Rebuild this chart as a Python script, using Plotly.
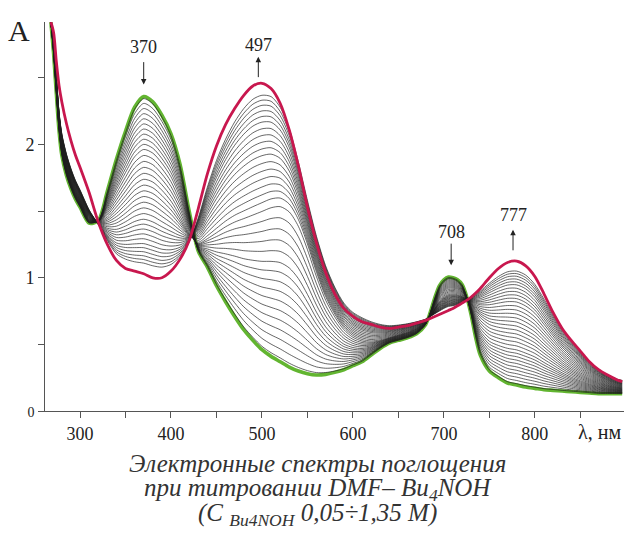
import plotly.graph_objects as go

# Wavelength grid (nm) shared by all spectra
wavelength = [268, 271, 274, 277, 280, 285, 290, 295, 300, 310, 320, 330, 340, 350,
              360, 370, 380, 390, 400, 410, 420, 430, 440, 450, 460, 470, 480, 490,
              500, 510, 520, 530, 540, 550, 560, 570, 580, 590, 600, 610, 620, 630,
              640, 650, 660, 670, 680, 685, 690, 695, 700, 705, 710, 715, 720, 725,
              730, 735, 740, 750, 760, 770, 780, 790, 800, 810, 820, 830, 840, 850,
              860, 870, 880, 890, 896]

# Initial spectrum (pure DMF solution)
absorb_initial = [2.92, 2.68, 2.38, 2.10, 1.92, 1.77, 1.67, 1.59, 1.53, 1.41, 1.43, 1.65,
                  1.89, 2.10, 2.28, 2.36, 2.32, 2.22, 2.08, 1.85, 1.50, 1.20, 1.08, 0.94,
                  0.82, 0.71, 0.61, 0.53, 0.46, 0.41, 0.37, 0.33, 0.30, 0.28, 0.27, 0.275,
                  0.29, 0.31, 0.34, 0.37, 0.42, 0.47, 0.51, 0.53, 0.55, 0.58, 0.65, 0.74,
                  0.85, 0.94, 0.985, 1.005, 1.00, 0.985, 0.95, 0.86, 0.72, 0.55, 0.42,
                  0.30, 0.25, 0.21, 0.195, 0.18, 0.17, 0.16, 0.155, 0.15, 0.145, 0.14,
                  0.135, 0.13, 0.13, 0.13, 0.13]

# Spectrum half-way through the titration
absorb_middle = [2.92, 2.72, 2.44, 2.17, 2.00, 1.85, 1.74, 1.66, 1.59, 1.46, 1.42, 1.45,
                 1.52, 1.60, 1.68, 1.72, 1.70, 1.64, 1.56, 1.45, 1.33, 1.26, 1.30, 1.35,
                 1.40, 1.44, 1.47, 1.50, 1.53, 1.56, 1.57, 1.53, 1.42, 1.24, 1.03, 0.85,
                 0.72, 0.62, 0.56, 0.53, 0.52, 0.53, 0.55, 0.57, 0.59, 0.62, 0.665, 0.71,
                 0.77, 0.82, 0.85, 0.87, 0.875, 0.87, 0.86, 0.84, 0.80, 0.75, 0.71, 0.66,
                 0.64, 0.63, 0.62, 0.59, 0.55, 0.49, 0.43, 0.37, 0.32, 0.28, 0.245, 0.215,
                 0.195, 0.18, 0.175]

# Last intermediate spectrum of the titration
absorb_last_step = [2.92, 2.76, 2.50, 2.24, 2.08, 1.93, 1.82, 1.73, 1.66, 1.51, 1.40, 1.28,
                    1.18, 1.14, 1.12, 1.11, 1.09, 1.08, 1.10, 1.16, 1.27, 1.45, 1.68, 1.88,
                    2.04, 2.17, 2.27, 2.34, 2.37, 2.36, 2.28, 2.12, 1.87, 1.58, 1.31, 1.09,
                    0.93, 0.81, 0.74, 0.70, 0.67, 0.65, 0.64, 0.645, 0.655, 0.67, 0.69,
                    0.71, 0.73, 0.75, 0.77, 0.785, 0.79, 0.80, 0.81, 0.83, 0.85, 0.875,
                    0.90, 0.96, 1.01, 1.045, 1.05, 1.02, 0.95, 0.84, 0.72, 0.61, 0.52,
                    0.44, 0.37, 0.31, 0.27, 0.24, 0.23]

# Final spectrum (1.35 M Bu4NOH)
absorb_final = [2.92, 2.84, 2.62, 2.44, 2.32, 2.16, 2.03, 1.92, 1.83, 1.64, 1.42, 1.25,
                1.13, 1.07, 1.05, 1.03, 1.00, 1.00, 1.05, 1.14, 1.28, 1.52, 1.78, 1.99,
                2.15, 2.27, 2.37, 2.44, 2.46, 2.42, 2.31, 2.11, 1.84, 1.53, 1.26, 1.04,
                0.88, 0.77, 0.71, 0.67, 0.65, 0.63, 0.62, 0.63, 0.64, 0.66, 0.68, 0.695,
                0.71, 0.725, 0.74, 0.755, 0.77, 0.79, 0.81, 0.83, 0.855, 0.885, 0.92,
                1.00, 1.07, 1.115, 1.125, 1.09, 1.01, 0.88, 0.74, 0.62, 0.53, 0.45,
                0.37, 0.31, 0.27, 0.235, 0.22]

# Titration progress of each recorded intermediate spectrum (0 = initial, 1 = last step)
progress = [0.012, 0.04, 0.07, 0.10, 0.13, 0.16, 0.19, 0.22, 0.25, 0.28, 0.31, 0.345,
            0.38, 0.415, 0.45, 0.485, 0.52, 0.555, 0.59, 0.625, 0.66, 0.695, 0.73,
            0.76, 0.79, 0.82, 0.85, 0.88, 0.905, 0.93, 0.955, 0.978, 1.0]

x_ticks = [300, 350, 400, 450, 500, 550, 600, 650, 700, 750, 800, 850]
x_tick_text = ["300", "", "400", "", "500", "", "600", "", "700", "", "800", ""]
y_ticks = [0, 0.5, 1, 1.5, 2, 2.5]
y_tick_text = ["<span style='font-size:14px'>0</span>", "", "1", "", "2", ""]

# Band maxima: label, wavelength, label height, arrow head height, arrow tail offset (px)
band_labels = ["370", "497", "708", "777"]
band_x = [370, 496, 708, 776]
band_text_y = [2.73, 2.75, 1.34, 1.47]
band_head_y = [2.45, 2.66, 1.095, 1.36]
band_tail_dy = [-24, 22, -23, 22]

SERIF = "Liberation Serif, Times New Roman, serif"
n = len(wavelength)
assert all(len(s) == n for s in (absorb_initial, absorb_middle, absorb_last_step, absorb_final))


def intermediate(t):
    """Spectrum at titration progress t, passing through the mid-point spectrum."""
    if t <= 0.5:
        w = t / 0.5
        return [a + (b - a) * w for a, b in zip(absorb_initial, absorb_middle)]
    w = (t - 0.5) / 0.5
    return [a + (b - a) * w for a, b in zip(absorb_middle, absorb_last_step)]


fig = go.Figure()

fig.add_trace(go.Scatter(x=wavelength, y=absorb_initial, mode="lines",
                         line=dict(color="#62b530", width=3.6, shape="spline", smoothing=0.8),
                         hoverinfo="skip"))

for t in progress:
    fig.add_trace(go.Scatter(x=wavelength, y=intermediate(t), mode="lines",
                             line=dict(color="rgba(30,30,30,0.8)", width=0.85,
                                       shape="spline", smoothing=0.8),
                             hoverinfo="skip"))

fig.add_trace(go.Scatter(x=wavelength, y=absorb_final, mode="lines",
                         line=dict(color="#c8174e", width=2.8, shape="spline", smoothing=0.8),
                         hoverinfo="skip"))

axis_common = dict(showline=True, linecolor="#555", linewidth=1, ticks="outside",
                   ticklen=6, tickcolor="#555", tickwidth=1, showgrid=False,
                   zeroline=False, tickfont=dict(family=SERIF, size=18, color="#222"))

fig.update_layout(
    width=624, height=537,
    margin=dict(l=45, r=0, t=22, b=126),
    paper_bgcolor="white", plot_bgcolor="white",
    showlegend=False,
    xaxis=dict(range=[261.5, 898], tickvals=x_ticks, ticktext=x_tick_text, **axis_common),
    yaxis=dict(range=[0, 2.92], tickvals=y_ticks, ticktext=y_tick_text, **axis_common),
)

# Band labels with arrows showing the direction of change
for lab, bx, ty, hy, dy in zip(band_labels, band_x, band_text_y, band_head_y, band_tail_dy):
    fig.add_annotation(x=bx, y=ty, text=lab, showarrow=False,
                       xanchor="center", yanchor="middle",
                       font=dict(family=SERIF, size=18, color="#222"))
    fig.add_annotation(x=bx, y=hy, text="", showarrow=True, ax=0, ay=dy,
                       arrowhead=2, arrowsize=1.1, arrowwidth=1, arrowcolor="#222")

# Axis titles
fig.add_annotation(xref="paper", yref="paper", x=-0.045, y=0.979, text="A",
                   xanchor="center", yanchor="middle", showarrow=False,
                   font=dict(family=SERIF, size=30, color="#222"))
fig.add_annotation(xref="paper", yref="paper", x=0.957, y=-0.054, text="λ, нм",
                   xanchor="center", yanchor="middle", showarrow=False,
                   font=dict(family=SERIF, size=20, color="#222"))

# Caption under the plot
caption = [
    "<i>Электронные спектры поглощения</i>",
    "<i>при титровании DMF– Bu<sub>4</sub>NOH</i>",
    "<i>(С <sub>Bu4NOH</sub> 0,05÷1,35 М)</i>",
]
caption_y = [-0.134, -0.201, -0.266]
for line, cy in zip(caption, caption_y):
    fig.add_annotation(xref="paper", yref="paper", x=0.4715, y=cy, text=line,
                       xanchor="center", yanchor="middle", showarrow=False,
                       font=dict(family=SERIF, size=25, color="#333"))

fig.write_html("out.html")
